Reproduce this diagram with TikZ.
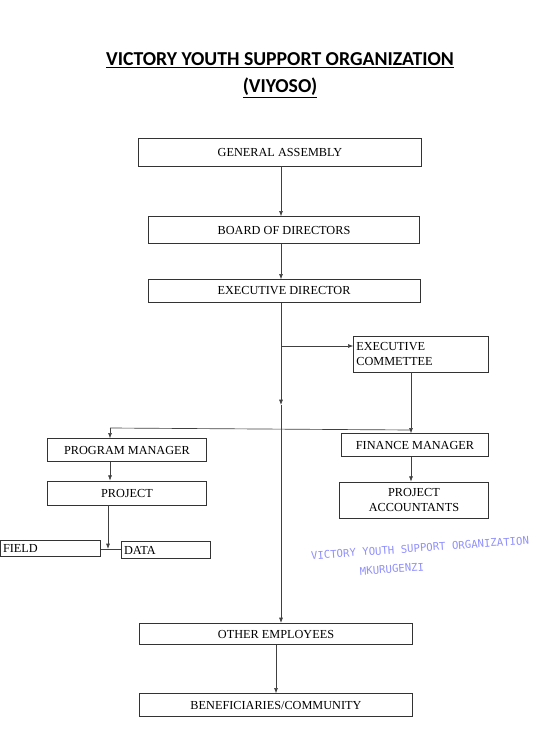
\documentclass[tikz,border=0pt]{standalone}
\usepackage{fontspec}
\setmainfont{Liberation Serif}
\newfontfamily\titlefont{Carlito}
\newfontfamily\stampfont{DejaVu Sans Mono}
\usetikzlibrary{arrows.meta, positioning}

\begin{document}
\begin{tikzpicture}[
    x=0.75pt, y=-0.75pt,
    >={Latex[length=4pt,width=3pt]},
    font=\fontsize{9.2}{11}\selectfont,
    line width=0.5pt,
    box/.style={
        draw=black!80,
        minimum height=17pt,
        inner sep=2pt,
        align=center
    },
    link/.style={draw=black!75, line width=0.5pt},
    stamp/.style={rotate=4, text=blue!55, opacity=0.8, inner sep=1pt,
        font=\stampfont\fontsize{8}{9}\selectfont}
]
\useasboundingbox (0,0) rectangle (540,742);

% title
\node[font=\titlefont\bfseries\fontsize{14.8}{17}\selectfont] (title1) at (280,60) {\underline{VICTORY YOUTH SUPPORT ORGANIZATION}};
\node[font=\titlefont\bfseries\fontsize{14.8}{17}\selectfont] (title2) at (280,88) {\underline{(VIYOSO)}};

% boxes
\node[box, minimum width=212pt, minimum height=21pt] (ga) at (280,152) {GENERAL ASSEMBLY};
\node[box, minimum width=203pt, minimum height=20pt] (bod) at (284,230) {BOARD OF DIRECTORS};
\node[box, minimum width=204pt] (ed) at (284,291) {EXECUTIVE DIRECTOR};
\node[box, minimum height=27pt, text width=97pt, align=left] (ec) at (421,354) {EXECUTIVE\\COMMETTEE};
\node[box, minimum width=119pt] (pm) at (127,450) {PROGRAM MANAGER};
\node[box, minimum width=110pt] (fm) at (415,445) {FINANCE MANAGER};
\node[box, minimum width=119pt, minimum height=18pt] (proj) at (127,493) {PROJECT};
\node[box, minimum width=112pt, minimum height=27pt] (pa) at (414,500) {PROJECT\\ACCOUNTANTS};
\node[box, minimum height=12pt, text width=71pt, align=left, anchor=west] (field) at (0,548) {FIELD};
\node[box, minimum height=13pt, text width=63pt, align=left] (data) at (166,550) {DATA};
\node[box, minimum width=205pt, minimum height=16pt] (oe) at (276,634) {OTHER EMPLOYEES};
\node[box, minimum width=205pt, minimum height=17pt] (ben) at (276,705) {BENEFICIARIES/COMMUNITY};

% junctions
\coordinate (top) at (281,303);
\coordinate (ecj) at (281,346);
\coordinate (midj) at (281,405);
\coordinate (lj) at (110,428);
\coordinate (rj) at (411,430);
\coordinate (fdj) at (108,549);

% connectors
\draw[link, ->] (ga.south -| 281,0) -- (bod.north -| 281,0);
\draw[link, ->] (bod.south -| 281,0) -- (ed.north -| 281,0);
\draw[link, ->] (top) -- (midj);
\draw[link, ->] (midj) -- (oe.north -| midj);
\draw[link, ->] (ecj) -- (ec.west |- ecj);
\draw[link, ->] (ec.south -| rj) -- (fm.north -| rj);
\draw[link] (lj) -- (rj);
\draw[link, ->] (lj) -- (pm.north -| lj);
\draw[link, ->] (pm.south -| lj) -- (proj.north -| lj);
\draw[link, ->] (proj.south -| fdj) -- (fdj);
\draw[link] (field.east |- fdj) -- (data.west |- fdj);
\draw[link, ->] (fm.south -| rj) -- (pa.north -| rj);
\draw[link, ->] (oe.south -| 276,0) -- (ben.north -| 276,0);

% stamp
\node[stamp] (stamp1) at (420,548) {VICTORY YOUTH SUPPORT ORGANIZATION};
\node[stamp] (stamp2) at (392,569) {MKURUGENZI};
\end{tikzpicture}
\end{document}
